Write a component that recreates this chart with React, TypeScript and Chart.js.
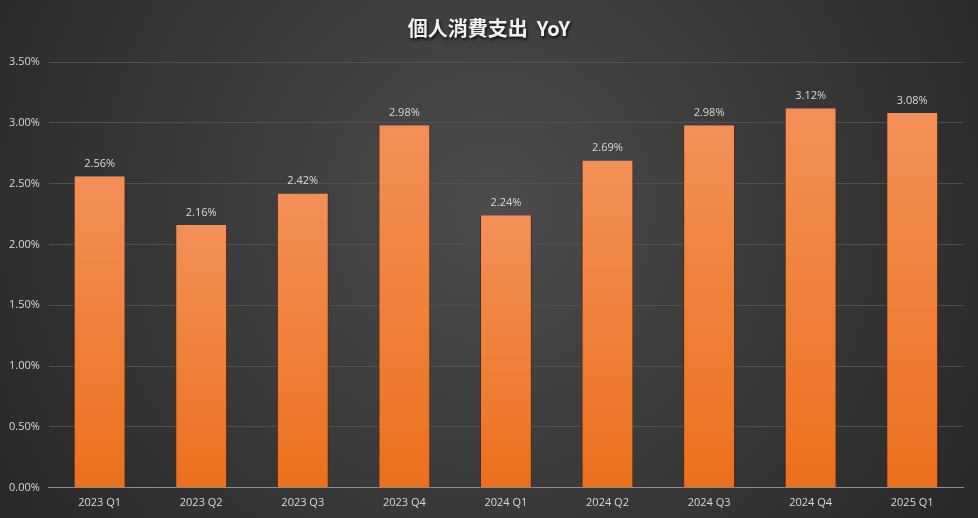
import React, { useEffect, useRef } from "react";
import { Chart, registerables } from "chart.js";

Chart.register(...registerables);

const categories = ["2023 Q1", "2023 Q2", "2023 Q3", "2023 Q4", "2024 Q1", "2024 Q2", "2024 Q3", "2024 Q4", "2025 Q1"];
const values = [2.56, 2.16, 2.42, 2.98, 2.24, 2.69, 2.98, 3.12, 3.08];
const titleText = "個人消費支出  YoY";

const bgPlugin = {
  id: "bg",
  beforeDraw(chart: any) {
    const { ctx, width, height } = chart;
    ctx.save();
    const g = ctx.createRadialGradient(width / 2, height * 0.4, 10, width / 2, height * 0.4, width * 0.62);
    g.addColorStop(0, "#4b4b4b");
    g.addColorStop(1, "#262626");
    ctx.fillStyle = g;
    ctx.fillRect(0, 0, width, height);
    ctx.restore();
  },
};

const titlePlugin = {
  id: "customTitle",
  afterDraw(chart: any) {
    const { ctx, width } = chart;
    ctx.save();
    ctx.font = "bold 20px 'Noto Sans CJK TC', 'Noto Sans', sans-serif";
    ctx.textAlign = "center";
    ctx.textBaseline = "middle";
    ctx.shadowColor = "rgba(0,0,0,0.8)";
    ctx.shadowOffsetX = 1;
    ctx.shadowOffsetY = 2;
    ctx.shadowBlur = 3;
    ctx.fillStyle = "#f2f2f2";
    ctx.fillText(titleText, width / 2, 28);
    ctx.restore();
  },
};

const labelPlugin = {
  id: "valueLabels",
  afterDatasetsDraw(chart: any) {
    const { ctx } = chart;
    const meta = chart.getDatasetMeta(0);
    ctx.save();
    ctx.font = "11px 'Open Sans', 'Noto Sans', sans-serif";
    ctx.fillStyle = "#d9d9d9";
    ctx.textAlign = "center";
    ctx.textBaseline = "bottom";
    meta.data.forEach((bar: any, i: number) => {
      ctx.fillText(values[i].toFixed(2) + "%", bar.x, bar.y - 7);
    });
    ctx.restore();
  },
};

export default function App() {
  const ref = useRef<HTMLCanvasElement>(null);
  useEffect(() => {
    document.body.style.margin = "0";
    const chart = new Chart(ref.current!, {
      type: "bar",
      data: {
        labels: categories,
        datasets: [
          {
            data: values,
            backgroundColor: (c: any) => {
              const chart = c.chart;
              const area = chart.chartArea;
              if (!area || c.parsed === undefined || c.parsed.y === undefined) return "#ef7a2a";
              const ys = chart.scales.y;
              const top = ys.getPixelForValue(c.parsed.y);
              const base = ys.getPixelForValue(0);
              const g = chart.ctx.createLinearGradient(0, top, 0, base);
              g.addColorStop(0, "#f39058");
              g.addColorStop(1, "#ec701c");
              return g;
            },
            borderColor: "#5a2810",
            borderWidth: { left: 1, right: 1, top: 0, bottom: 0 },
            borderSkipped: false,
            categoryPercentage: 1,
            barPercentage: 0.51,
          },
        ],
      },
      options: {
        animation: false,
        responsive: false,
        layout: { padding: { top: 62, right: 15, left: 0, bottom: 1 } },
        plugins: { legend: { display: false }, title: { display: false }, tooltip: { enabled: false } },
        scales: {
          x: {
            grid: { display: false, drawTicks: false },
            border: { display: true, color: "#8c8c8c", width: 1 },
            ticks: { color: "#d9d9d9", font: { size: 11, family: "'Open Sans', 'Noto Sans', sans-serif" }, padding: 8 },
          },
          y: {
            min: 0,
            max: 3.5,
            grid: { color: "#505050", lineWidth: 1, drawTicks: false },
            border: { display: false },
            ticks: {
              stepSize: 0.5,
              color: "#d9d9d9",
              font: { size: 11, family: "'Open Sans', 'Noto Sans', sans-serif" },
              padding: 9,
              callback: (v: any) => Number(v).toFixed(2) + "%",
            },
          },
        },
      },
      plugins: [bgPlugin, titlePlugin, labelPlugin],
    });
    return () => chart.destroy();
  }, []);
  return <canvas ref={ref} width={978} height={518} style={{ display: "block" }} />;
}
